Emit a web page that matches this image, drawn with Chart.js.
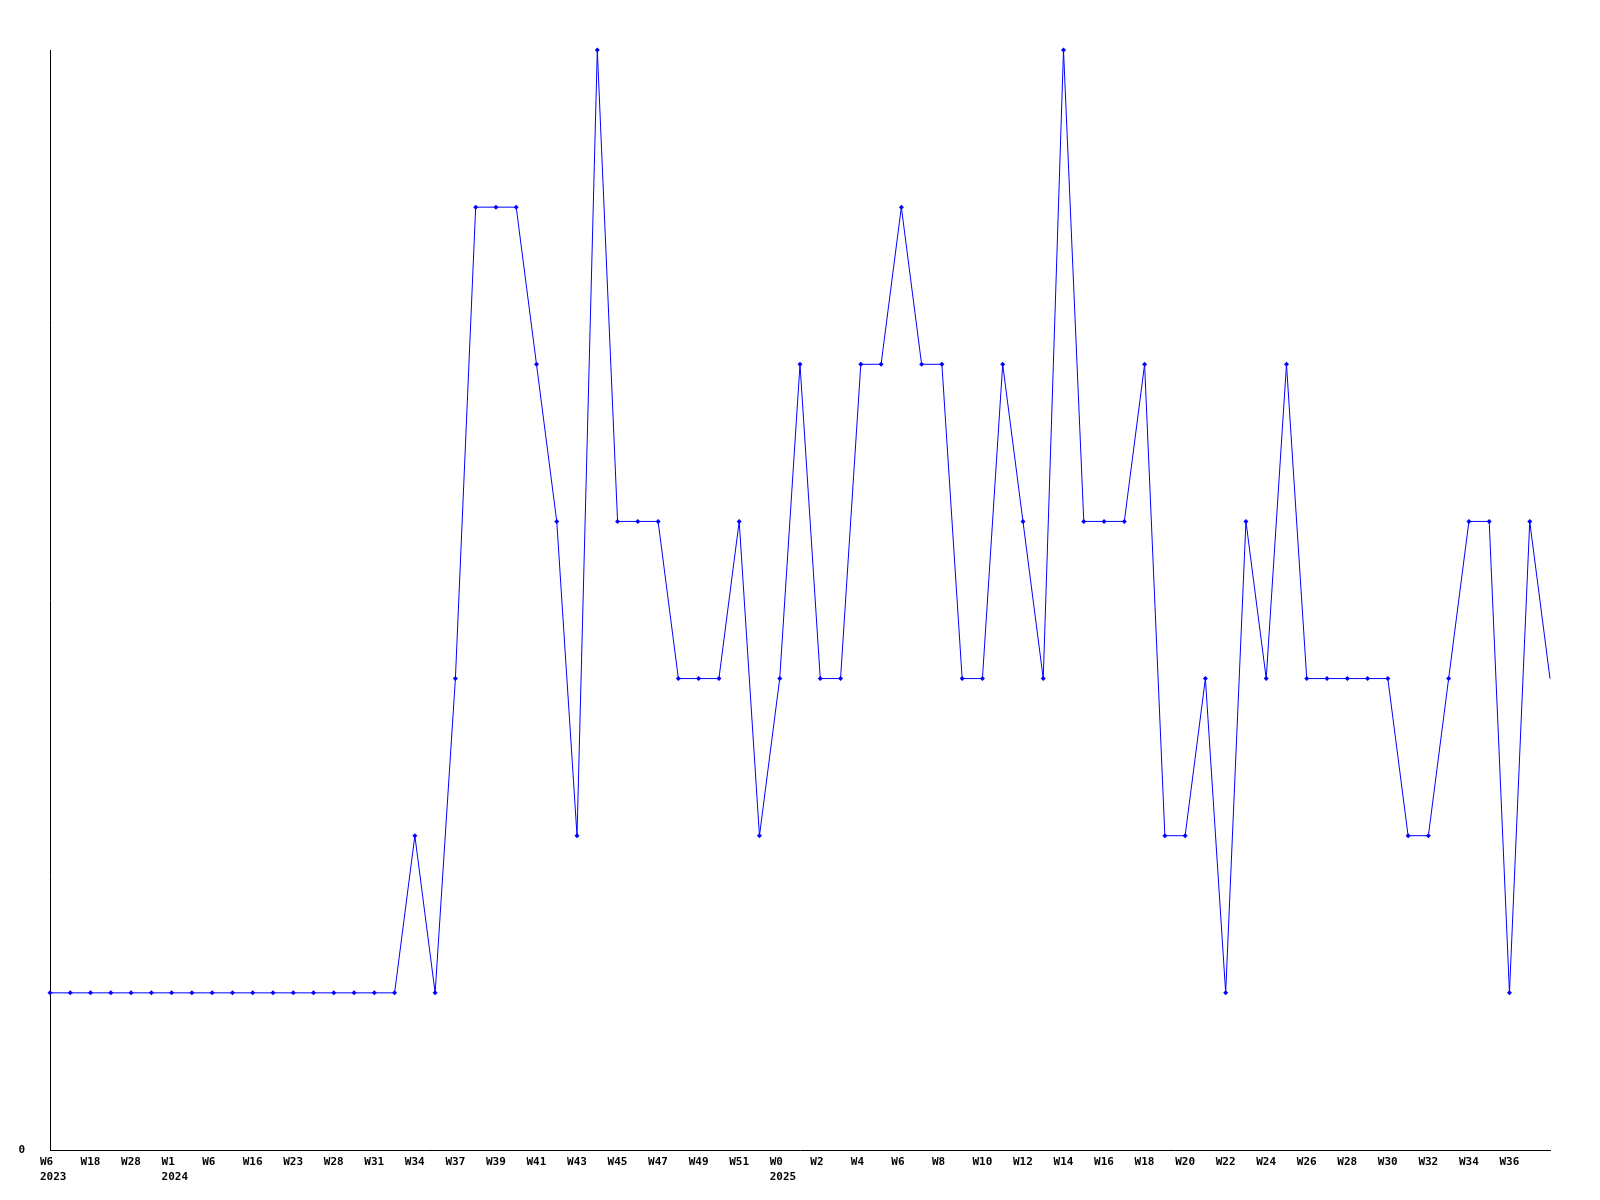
<!DOCTYPE html>
<html>
<head>
<meta charset="utf-8">
<script src="https://cdn.jsdelivr.net/npm/chart.js@4"></script>
<style>
html,body{margin:0;padding:0;background:#fff;}
#wrap{width:1600px;height:1200px;}
</style>
</head>
<body>
<div id="wrap"><canvas id="c" width="1600" height="1200"></canvas></div>
<script>
const weekLabels = [
  'W6','W12','W18','W23','W28','W40','W1','W3','W6','W11',
  'W16','W20','W23','W26','W28','W30','W31','W33','W34','W36',
  'W37','W38','W39','W40','W41','W42','W43','W44','W45','W46',
  'W47','W48','W49','W50','W51','W52','W0','W1','W2','W3',
  'W4','W5','W6','W7','W8','W9','W10','W11','W12','W13',
  'W14','W15','W16','W17','W18','W19','W20','W21','W22','W23',
  'W24','W25','W26','W27','W28','W29','W30','W31','W32','W33',
  'W34','W35','W36','W37','W38'
];
const yearLabels = ['2023','','','','','','2024','','','','','','','','','','','','','','','','','','','','','','','','','','','','','','2025','','','','','','','','','','','','','','','','','','','','','','','','','','','','','','','','','','','','','',''];
const values = [
  1,1,1,1,1,1,1,1,1,1,
  1,1,1,1,1,1,1,1,2,1,
  3,6,6,6,5,4,2,7,4,4,
  4,3,3,3,4,2,3,5,3,3,
  5,5,6,5,5,3,3,5,4,3,
  7,4,4,4,5,2,2,3,1,4,
  3,5,3,3,3,3,3,2,2,3,
  4,4,1,4,3
];
const yTickValues = [0];

const font = {family: '"DejaVu Sans Mono", monospace', size: 11, weight: 'bold', lineHeight: '15px'};
const pointRadii = values.map((v, i) => i === values.length - 1 ? 0 : 2.5);

new Chart(document.getElementById('c'), {
  type: 'line',
  data: {
    labels: weekLabels,
    datasets: [{
      data: values,
      borderColor: '#0000ff',
      backgroundColor: '#0000ff',
      borderWidth: 1,
      tension: 0,
      pointStyle: 'rectRot',
      pointRadius: pointRadii,
      pointBorderWidth: 0,
      pointBackgroundColor: '#0000ff',
      clip: false
    }]
  },
  options: {
    responsive: false,
    animation: false,
    devicePixelRatio: 1,
    layout: {padding: {top: 50, right: 50, left: 0, bottom: 0}},
    plugins: {legend: {display: false}, tooltip: {enabled: false}},
    scales: {
      x: {
        type: 'category',
        offset: false,
        grid: {display: false, drawTicks: false},
        border: {display: true, color: '#000', width: 1},
        ticks: {
          autoSkip: false,
          maxRotation: 0,
          minRotation: 0,
          align: 'start',
          labelOffset: -10,
          padding: 5,
          color: '#000',
          font: font,
          callback: function(value, index) {
            if (index % 2 !== 0 || index === weekLabels.length - 1) return '';
            const y = yearLabels[index];
            return y ? [weekLabels[index], y] : weekLabels[index];
          }
        },
        afterFit: function(scale) { scale.height = 50; }
      },
      y: {
        min: 0,
        max: 7,
        grid: {display: false, drawTicks: false},
        border: {display: true, color: '#000', width: 1},
        ticks: {
          padding: 25,
          color: '#000',
          font: font,
          callback: function(v) { return String(v); }
        },
        afterBuildTicks: function(scale) {
          scale.ticks = yTickValues.map(v => ({value: v}));
        },
        afterFit: function(scale) { scale.width = 50; }
      }
    }
  }
});
</script>
</body>
</html>
